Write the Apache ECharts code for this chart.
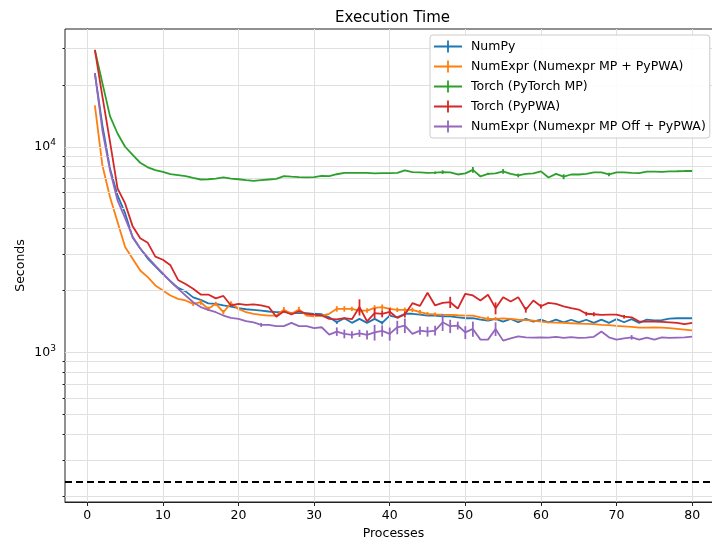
<!DOCTYPE html>
<html>
<head>
<meta charset="utf-8">
<title>Execution Time</title>
<script src="https://cdn.jsdelivr.net/npm/echarts@6/dist/echarts.min.js"></script>
<style>
  html, body { margin: 0; padding: 0; background: #fff; }
  #main { width: 712px; height: 540px; }
</style>
</head>
<body>
<div id="main"></div>
<script>
// x 轴：进程数
var processes = [1,2,3,4,5,6,7,8,9,10,11,12,13,14,15,16,17,18,19,20,
  21,22,23,24,25,26,27,28,29,30,31,32,33,34,35,36,37,38,39,40,
  41,42,43,44,45,46,47,48,49,50,51,52,53,54,55,56,57,58,59,60,
  61,62,63,64,65,66,67,68,69,70,71,72,73,74,75,76,77,78,79,80];

var numpyTimes = [22800,12700,7850,5800,4750,3620,3200,2860,2620,2400,
  2220,2060,1980,1850,1800,1730,1720,1690,1670,1640,
  1620,1610,1597,1580,1567,1567,1555,1550,1550,1540,
  1532,1480,1400,1465,1391,1455,1391,1455,1391,1510,
  1480,1540,1540,1525,1510,1510,1495,1495,1480,1465,
  1465,1443,1427,1455,1410,1455,1400,1455,1410,1443,
  1400,1443,1400,1440,1400,1440,1391,1443,1391,1450,
  1400,1450,1391,1443,1430,1435,1460,1465,1465,1465];

var numexprMpTimes = [15900,8100,5700,4300,3250,2850,2500,2320,2115,2000,
  1890,1820,1787,1722,1753,1628,1722,1567,1734,1628,
  1567,1540,1522,1510,1510,1610,1540,1615,1510,1498,
  1510,1540,1627,1627,1627,1597,1597,1645,1659,1627,
  1610,1610,1610,1567,1540,1530,1525,1522,1515,1510,
  1510,1480,1455,1455,1462,1455,1440,1435,1427,1410,
  1400,1395,1390,1385,1380,1375,1370,1360,1355,1345,
  1338,1330,1320,1318,1322,1318,1310,1300,1290,1280];

var torchMpTimes = [29600,20400,14100,11600,10000,9120,8360,7940,7690,7550,
  7360,7280,7200,7060,6930,6950,7000,7100,7000,6950,
  6880,6830,6880,6930,6980,7200,7150,7110,7100,7110,
  7220,7200,7350,7470,7470,7470,7470,7420,7450,7450,
  7470,7670,7530,7500,7470,7480,7530,7500,7330,7420,
  7720,7170,7380,7420,7590,7380,7250,7380,7420,7590,
  7090,7380,7150,7330,7330,7380,7500,7500,7330,7500,
  7500,7470,7450,7570,7570,7550,7590,7600,7620,7620];

var torchPypwaTimes = [29600,17540,10580,6270,5300,4100,3590,3410,2920,2820,
  2650,2250,2150,2040,1910,1910,1830,1880,1690,1720,
  1700,1710,1690,1660,1490,1585,1527,1585,1540,1527,
  1510,1455,1445,1465,1450,1660,1416,1550,1540,1575,
  1470,1527,1734,1683,1950,1690,1740,1753,1633,1927,
  1890,1787,1905,1640,1855,1765,1855,1610,1787,1675,
  1740,1720,1675,1640,1615,1540,1532,1522,1527,1527,
  1490,1480,1411,1411,1411,1406,1400,1391,1370,1391];

var numexprOffTimes = [22800,12000,7680,5480,4500,3650,3200,2900,2640,2420,
  2210,2040,1890,1753,1660,1610,1567,1510,1470,1455,
  1420,1400,1360,1360,1340,1340,1391,1340,1340,1310,
  1324,1220,1262,1230,1216,1238,1216,1251,1272,1230,
  1324,1350,1230,1276,1262,1276,1400,1340,1350,1251,
  1300,1153,1153,1300,1140,1170,1197,1183,1180,1183,
  1180,1190,1175,1185,1175,1180,1190,1262,1183,1153,
  1170,1183,1153,1180,1153,1183,1175,1180,1183,1193];

// 误差棒 [进程数, 误差(秒)]
var numpyErr = [[33,25],[39,25]];
var numexprMpErr = [[14,40],[15,50],[16,40],[17,40],[18,40],[19,40],[20,30],[26,50],[28,50],
  [33,50],[34,50],[35,40],[36,40],[37,40],[38,50],[39,50],[40,40],[41,40],[42,40],
  [43,40],[44,40],[45,30],[46,30],[53,40],[54,30]];
var torchMpErr = [[46,100],[47,150],[51,250],[53,100],[55,200],[57,150],[63,200],[69,150]];
var torchPypwaErr = [[36,150],[38,90],[39,60],[40,70],[42,50],[48,110],[54,110],[58,50],
  [60,40],[66,35],[67,35],[71,30]];
var numexprOffErr = [[23,30],[33,60],[34,60],[35,50],[36,50],[37,60],[38,110],[39,80],[40,90],
  [41,100],[42,110],[44,60],[45,70],[46,70],[47,130],[48,100],[49,60],[50,90],[51,110],
  [54,100],[72,30]];

var seriesNames = ['NumPy', 'NumExpr (Numexpr MP + PyPWA)', 'Torch (PyTorch MP)',
  'Torch (PyPWA)', 'NumExpr (Numexpr MP Off + PyPWA)'];
var colors = ['#1f77b4', '#ff7f0e', '#2ca02c', '#d62728', '#9467bd'];

var xTicks = [0,10,20,30,40,50,60,70,80];
var yMajor = [1000, 10000];
var yMinor = [200,300,400,500,600,700,800,900,2000,3000,4000,5000,6000,7000,8000,9000,20000,30000];
var dashedLevel = 235;

var font = 'DejaVu Sans';
var myChart = echarts.init(document.getElementById('main'));

function pairs(vals){
  var out = [];
  for (var i = 0; i < vals.length; i++) out.push([processes[i], vals[i]]);
  return out;
}
function errData(vals, errs){
  var out = [];
  for (var i = 0; i < errs.length; i++) {
    var p = errs[i][0];
    out.push([p, vals[p - 1], errs[i][1]]);
  }
  return out;
}
function errRender(color){
  return function(params, api){
    var x = api.value(0), y = api.value(1), e = api.value(2);
    var a = api.coord([x, y + e]);
    var b = api.coord([x, y - e]);
    return {
      type: 'line',
      shape: {x1: a[0], y1: a[1], x2: b[0], y2: b[1]},
      style: {stroke: color, lineWidth: 1.8}
    };
  };
}

var allVals = [numpyTimes, numexprMpTimes, torchMpTimes, torchPypwaTimes, numexprOffTimes];
var allErrs = [numpyErr, numexprMpErr, torchMpErr, torchPypwaErr, numexprOffErr];

var gridLines = [];
yMinor.concat(yMajor).forEach(function(v){ gridLines.push({yAxis: v}); });
xTicks.forEach(function(v){ gridLines.push({xAxis: v}); });

var series = [{
  type: 'line', name: '_grid', data: [], z: 0, silent: true,
  markLine: {
    silent: true, symbol: 'none', animation: false,
    label: {show: false}, emphasis: {disabled: true},
    lineStyle: {color: '#e0e0e0', width: 1, type: 'solid'},
    data: gridLines
  }
}, {
  type: 'line', name: '_dash', data: [], z: 1, silent: true,
  markLine: {
    silent: true, symbol: 'none', animation: false,
    label: {show: false}, emphasis: {disabled: true},
    lineStyle: {color: '#000', width: 1.8, type: [7, 4]},
    data: [{yAxis: dashedLevel}]
  }
}];

for (var k = 0; k < 5; k++) {
  series.push({
    type: 'line', name: seriesNames[k], data: pairs(allVals[k]),
    showSymbol: false, symbol: 'none', z: 3 + k,
    lineStyle: {color: colors[k], width: 1.8},
    itemStyle: {color: colors[k]},
    animation: false
  });
  series.push({
    type: 'custom', name: seriesNames[k] + ' err', data: errData(allVals[k], allErrs[k]),
    renderItem: errRender(colors[k]), z: 3 + k, silent: true,
    encode: {x: 0, y: 1}, animation: false
  });
}

var option = {
  backgroundColor: '#fff',
  title: {
    text: 'Execution Time', left: 330, top: 6,
    textStyle: {fontFamily: font, fontSize: 15, fontWeight: 'normal', color: '#000'}
  },
  legend: {
    data: seriesNames, orient: 'vertical', left: 430, top: 35, z: 20,
    padding: [5, 4, 5, 4], itemWidth: 28, itemHeight: 12, itemGap: 7,
    icon: 'path://M0,5.1h28v1.8h-28z M13.1,0h1.8v12h-1.8z',
    backgroundColor: 'rgba(255,255,255,0.9)', borderColor: '#cccccc', borderWidth: 1, borderRadius: 3,
    textStyle: {fontFamily: font, fontSize: 12.5, color: '#000', padding: [0, 0, 0, 4]},
    selectedMode: false
  },
  grid: {
    left: 65, top: 29, right: -10, bottom: 38, outerBoundsMode: 'none',
    show: true, borderColor: '#222', borderWidth: 1
  },
  xAxis: {
    type: 'value', min: -2.95, max: 83.95,
    name: 'Processes', nameLocation: 'middle', nameGap: 25,
    nameTextStyle: {fontFamily: font, fontSize: 12.5, color: '#000'},
    axisLine: {lineStyle: {color: '#222', width: 1}},
    axisTick: {length: 4, lineStyle: {color: '#222'}, customValues: xTicks},
    axisLabel: {fontFamily: font, fontSize: 12.5, color: '#000', margin: 7, customValues: xTicks},
    splitLine: {show: false}
  },
  yAxis: [{
    type: 'log', logBase: 10, min: 187, max: 37400,
    name: 'Seconds', nameLocation: 'middle', nameGap: 38, nameRotate: 90, nameMoveOverlap: false,
    nameTextStyle: {fontFamily: font, fontSize: 12.5, color: '#000'},
    axisLine: {show: true, lineStyle: {color: '#222', width: 1}},
    axisTick: {length: 4.5, lineStyle: {color: '#222'}, customValues: yMajor},
    axisLabel: {
      margin: 9, customValues: yMajor,
      formatter: function(v){ return '{b|10}{s|' + Math.round(Math.log10(v)) + '}'; },
      rich: {
        b: {fontFamily: font, fontSize: 12.5, color: '#000'},
        s: {fontFamily: font, fontSize: 9, color: '#000', padding: [0, 0, 8, 0]}
      }
    },
    splitLine: {show: false}
  }, {
    type: 'log', logBase: 10, min: 187, max: 37400, position: 'left',
    axisLine: {show: false},
    axisTick: {length: 2.5, lineStyle: {color: '#222'}, customValues: yMinor},
    axisLabel: {show: false},
    splitLine: {show: false}
  }],
  series: series
};
myChart.setOption(option);
</script>
</body>
</html>
